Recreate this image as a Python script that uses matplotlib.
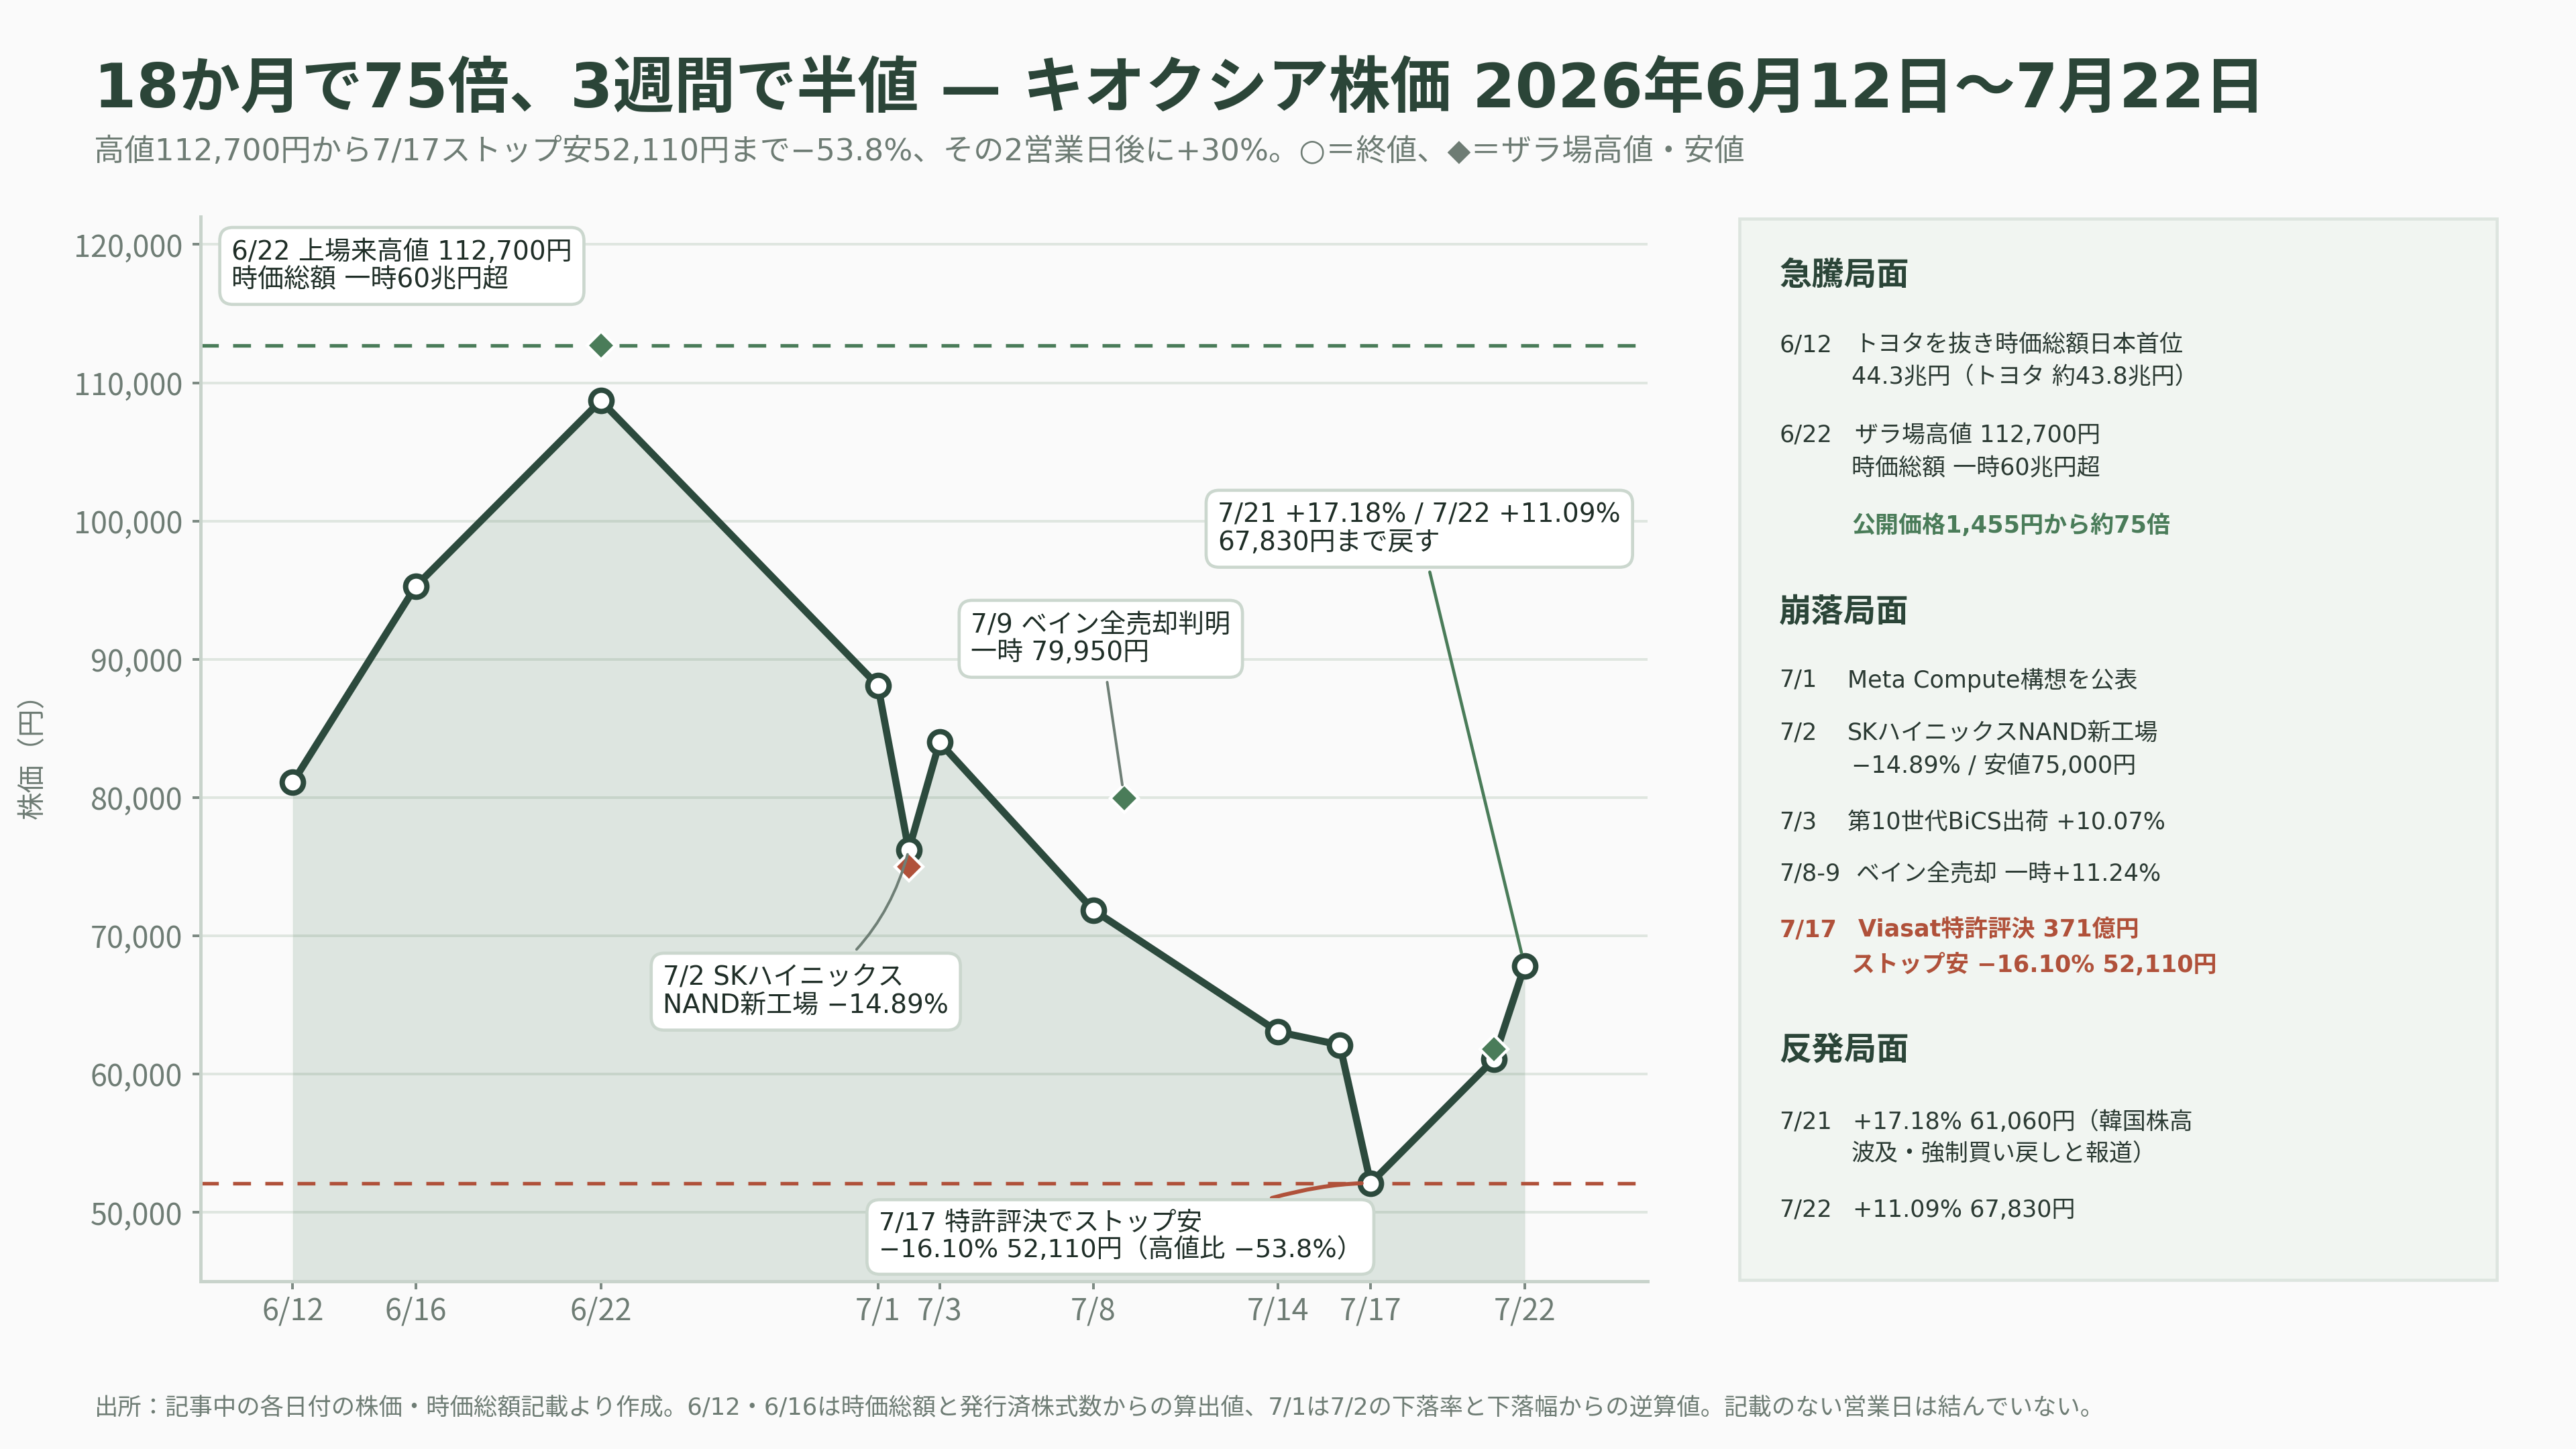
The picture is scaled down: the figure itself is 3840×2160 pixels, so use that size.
import matplotlib
matplotlib.use('Agg')
import matplotlib.pyplot as plt
import matplotlib.dates as mdates
from matplotlib.patches import Rectangle
from matplotlib.ticker import FuncFormatter, FixedLocator
import pandas as pd

FAM = ['DejaVu Sans', 'Noto Sans CJK JP']
plt.rcParams['font.family'] = FAM
plt.rcParams['axes.unicode_minus'] = False

# ---------------- data ----------------
close_dates = ['2026-06-12', '2026-06-16', '2026-06-22', '2026-07-01', '2026-07-02',
               '2026-07-03', '2026-07-08', '2026-07-14', '2026-07-16', '2026-07-17',
               '2026-07-21', '2026-07-22']
close_values = [81100, 95300, 108700, 88100, 76200, 84000, 71850, 63050, 62110, 52110,
                61060, 67830]

intraday_dates = ['2026-06-22', '2026-07-02', '2026-07-09', '2026-07-21']
intraday_values = [112700, 75000, 79950, 61800]
intraday_is_low = [False, True, False, False]

tick_dates = ['2026-06-12', '2026-06-16', '2026-06-22', '2026-07-01', '2026-07-03',
              '2026-07-08', '2026-07-14', '2026-07-17', '2026-07-22']
tick_labels = ['6/12', '6/16', '6/22', '7/1', '7/3', '7/8', '7/14', '7/17', '7/22']
y_ticks = [50000, 60000, 70000, 80000, 90000, 100000, 110000, 120000]

peak_high = 112700
stop_low = 52110

title = '18か月で75倍、3週間で半値 — キオクシア株価 2026年6月12日〜7月22日'
subtitle = ('高値112,700円から7/17ストップ安52,110円まで−53.8%、その2営業日後に+30%。'
            '○＝終値、◆＝ザラ場高値・安値')
footer = ('出所：記事中の各日付の株価・時価総額記載より作成。6/12・6/16は時価総額と発行済株式数からの算出値、'
          '7/1は7/2の下落率と下落幅からの逆算値。記載のない営業日は結んでいない。')

# ---------------- style ----------------
BG = '#fafafa'
DARK = '#2c4a3d'
TITLE = '#2b4538'
GREEN = '#4a7c59'
RED = '#b0513a'
GRAY = '#6e7c74'
TXT = '#1f2e27'
GRID = '#dfe6e0'
SPINE = '#c8d3cb'

W, H = 1568, 882


def fx(px):
    return px / W


def fy(py):
    return 1 - py / H


fig = plt.figure(figsize=(16, 9), dpi=240, facecolor=BG)

# titles
fig.text(fx(57), fy(55), title, fontsize=27.4, fontweight='bold', color=TITLE,
         ha='left', va='center')
fig.text(fx(57), fy(92), subtitle, fontsize=13.6, color=GRAY, ha='left', va='center')
fig.text(fx(57), fy(857), footer, fontsize=10.6, color=GRAY, ha='left', va='center')

# main axes
ax = fig.add_axes([fx(122), fy(780), fx(1003) - fx(122), fy(132) - fy(780)])
ax.set_facecolor(BG)

cd = pd.to_datetime(close_dates)
idates = pd.to_datetime(intraday_dates)

ax.set_xlim(pd.Timestamp('2026-06-09'), pd.Timestamp('2026-07-26'))
ax.set_ylim(45000, 122000)

ax.yaxis.set_major_locator(FixedLocator(y_ticks))
ax.yaxis.set_major_formatter(FuncFormatter(lambda v, p: f'{int(v):,}'))
ax.set_xticks(pd.to_datetime(tick_dates))
ax.set_xticklabels(tick_labels)

ax.grid(axis='y', color=GRID, lw=1.2, zorder=0)
ax.set_axisbelow(True)
for s in ['top', 'right']:
    ax.spines[s].set_visible(False)
for s in ['left', 'bottom']:
    ax.spines[s].set_color(SPINE)
    ax.spines[s].set_linewidth(1.5)
ax.tick_params(axis='both', colors='#7d8a83', labelcolor=GRAY, labelsize=13.5,
               length=3.5, width=1.2)
ax.tick_params(axis='x', pad=3)
ax.tick_params(axis='y', pad=4.5)
for lab in ax.get_xticklabels() + ax.get_yticklabels():
    lab.set_fontfamily(['Noto Sans CJK JP'])

ax.set_ylabel('株価（円）', fontsize=12.5, color=GRAY, labelpad=12,
              family=['Noto Sans CJK JP'])

# fill & line
ax.fill_between(cd, close_values, 45000, color=GREEN, alpha=0.16, lw=0.8,
                edgecolor='#c9d6cc', zorder=1)
ax.axhline(peak_high, color=GREEN, lw=1.6, ls=(0, (5, 4)), zorder=2)
ax.axhline(stop_low, color=RED, lw=1.6, ls=(0, (5, 4)), zorder=2)
ax.plot(cd, close_values, color=DARK, lw=3.2, zorder=3, solid_joinstyle='round')
ax.plot(cd, close_values, ls='none', marker='o', ms=9.5, mfc='white', mec=DARK,
        mew=2.4, zorder=4)

for d, v, low in zip(idates, intraday_values, intraday_is_low):
    ax.plot([d], [v], ls='none', marker='D', ms=9, mfc=RED if low else GREEN,
            mec='white', mew=1.3, zorder=5)

# annotations
base = mdates.date2num(pd.Timestamp('2026-06-12'))
bbox = dict(boxstyle='round,pad=0.45,rounding_size=0.5', fc='white', ec='#cbd7ce', lw=1.4)
afs = 11.7
ls_ = 1.12

ax.text(base - 1.99, 118450, '6/22 上場来高値 112,700円\n時価総額 一時60兆円超',
        fontsize=afs, color=TXT, ha='left', va='center', linespacing=ls_, bbox=bbox,
        zorder=6)

ax.annotate('7/9 ベイン全売却判明\n一時 79,950円',
            xy=(mdates.date2num(idates[2]), intraday_values[2]),
            xytext=(base + 22.02, 91480), textcoords='data',
            fontsize=afs, color=TXT, ha='left', va='center', linespacing=ls_,
            bbox=bbox, zorder=6,
            arrowprops=dict(arrowstyle='-', color='#6f7f76', lw=1.2, shrinkA=2, shrinkB=6))

ax.annotate('7/21 +17.18% / 7/22 +11.09%\n67,830円まで戻す',
            xy=(mdates.date2num(cd[-1]), close_values[-1]),
            xytext=(base + 30.04, 99440), textcoords='data',
            fontsize=afs, color=TXT, ha='left', va='center', linespacing=ls_,
            bbox=bbox, zorder=6,
            arrowprops=dict(arrowstyle='-', color=GREEN, lw=1.4, shrinkA=2, shrinkB=6))

ax.annotate('7/2 SKハイニックス\nNAND新工場 −14.89%',
            xy=(mdates.date2num(cd[4]), close_values[4]),
            xytext=(base + 12.02, 65960), textcoords='data',
            fontsize=afs, color=TXT, ha='left', va='center', linespacing=ls_,
            bbox=bbox, zorder=6,
            arrowprops=dict(arrowstyle='-', color='#6f7f76', lw=1.2, shrinkA=2, shrinkB=2,
                            connectionstyle='arc3,rad=0.2'))

ax.annotate('7/17 特許評決でストップ安\n−16.10% 52,110円（高値比 −53.8%）',
            xy=(mdates.date2num(cd[9]), close_values[9]),
            xytext=(base + 19.02, 48215), textcoords='data',
            fontsize=11.5, color=TXT, ha='left', va='center', linespacing=ls_,
            bbox=bbox, zorder=6,
            arrowprops=dict(arrowstyle='-', color=RED, lw=1.8, shrinkA=2, shrinkB=4,
                            relpos=(0.6, 0.5),
                            connectionstyle='angle3,angleA=25,angleB=0'))

# ---------------- side panel ----------------
fig.patches.append(Rectangle((fx(1059), fy(779)), fx(1520) - fx(1059), fy(133) - fy(779),
                             transform=fig.transFigure, fc='#f1f5f1', ec='#dde5df', lw=1.4,
                             zorder=0))

XD = 1083
hfs, bfs = 14.5, 10.5
BODY = '#2b3a33'


def head(py, s):
    fig.text(fx(XD), fy(py), s, fontsize=hfs, fontweight='bold', color=TITLE,
             ha='left', va='center')


def line(py, date, s, xt, color=BODY, weight='normal'):
    if date:
        fig.text(fx(XD), fy(py), date, fontsize=bfs, color=color, fontweight=weight,
                 ha='left', va='center')
    fig.text(fx(xt), fy(py), s, fontsize=bfs, color=color, fontweight=weight,
             ha='left', va='center')


head(168, '急騰局面')
line(210, '6/12', 'トヨタを抜き時価総額日本首位', 1129)
line(229.5, '', '44.3兆円（トヨタ 約43.8兆円）', 1127)
line(265, '6/22', 'ザラ場高値 112,700円', 1129)
line(285, '', '時価総額 一時60兆円超', 1127)
line(320, '', '公開価格1,455円から約75倍', 1127, color=GREEN, weight='bold')

head(373, '崩落局面')
line(414, '7/1', 'Meta Compute構想を公表', 1124.5)
line(446, '7/2', 'SKハイニックスNAND新工場', 1124.5)
line(466.5, '', '−14.89% / 安値75,000円', 1127)
line(500.5, '7/3', '第10世代BiCS出荷 +10.07%', 1124.5)
line(532, '7/8-9', 'ベイン全売却 一時+11.24%', 1130)
line(566, '7/17', 'Viasat特許評決 371億円', 1131, color=RED, weight='bold')
line(587.5, '', 'ストップ安 −16.10% 52,110円', 1127, color=RED, weight='bold')

head(640, '反発局面')
line(683, '7/21', '+17.18% 61,060円（韓国株高', 1128)
line(702.5, '', '波及・強制買い戻しと報道）', 1127)
line(736.5, '7/22', '+11.09% 67,830円', 1128)

fig.savefig('out.png', dpi=240, facecolor=BG)
